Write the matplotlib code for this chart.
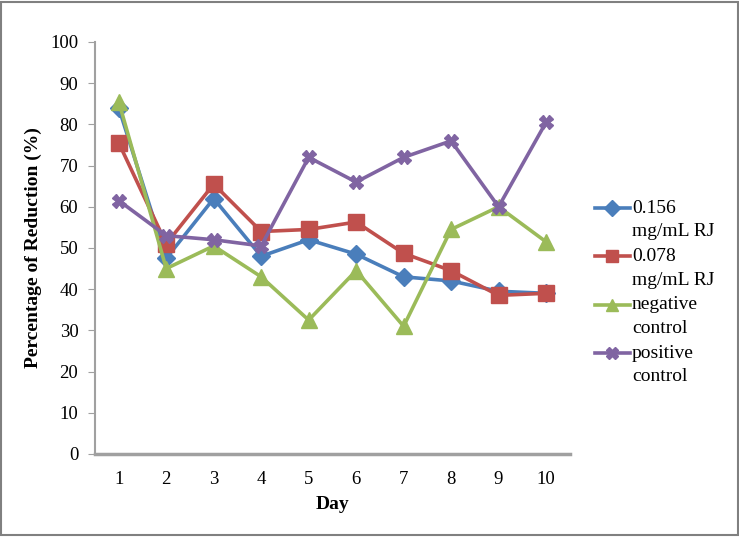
import matplotlib
matplotlib.use("Agg")
import matplotlib.pyplot as plt
import numpy as np
from matplotlib.patches import Rectangle
from matplotlib.legend_handler import HandlerLine2D

plt.rcParams['font.family'] = ['Liberation Serif', 'DejaVu Serif']

days = [1, 2, 3, 4, 5, 6, 7, 8, 9, 10]
series_names = ["0.156\nmg/mL RJ", "0.078\nmg/mL RJ", "negative\ncontrol", "positive\ncontrol"]
rj_0156 = [84, 47.5, 62, 48, 52, 48.5, 43, 42, 39.5, 39]
rj_0078 = [75.5, 51, 65.5, 54, 54.5, 56.3, 48.7, 44.5, 38.5, 39]
neg_control = [85.5, 45, 50.5, 43, 32.5, 44.5, 31, 54.5, 60, 51.5]
pos_control = [61.5, 53, 52, 50.5, 72, 66, 72, 76, 60, 80.5]
y_ticks = [0, 10, 20, 30, 40, 50, 60, 70, 80, 90, 100]

colors = ["#4A7EBB", "#C0504D", "#9BBB59", "#8064A2"]
markers = ["D", "s", "^", "X"]
msizes = [9, 11, 11, 10]


class TopHandler(HandlerLine2D):
    def create_artists(self, legend, orig_handle, xdescent, ydescent,
                       width, height, fontsize, trans):
        arts = super().create_artists(legend, orig_handle, xdescent, ydescent,
                                      width, height, fontsize, trans)
        for a in arts:
            a.set_ydata(np.asarray(a.get_ydata(), dtype=float) + 0.6 * fontsize)
        return arts


fig = plt.figure(figsize=(7.39, 5.37), dpi=100)
ax = fig.add_axes([0.1286, 0.1546, 0.6424, 0.7672])

lines = []
for vals, name, c, m, ms in zip([rj_0156, rj_0078, neg_control, pos_control],
                                series_names, colors, markers, msizes):
    ln, = ax.plot(days, vals, color=c, marker=m, markersize=ms, linewidth=2.6,
                  label=name, markeredgecolor=c)
    lines.append(ln)

ax.set_xlim(0.5, 10.5)
ax.set_ylim(0, 100)
ax.set_xticks(days)
ax.set_yticks(y_ticks)
ax.tick_params(axis='x', length=0, pad=12, labelsize=13.5)
ax.tick_params(axis='y', length=5, color='#A0A0A0', direction='out', labelsize=13.5, pad=7)
for s in ['top', 'right']:
    ax.spines[s].set_visible(False)
ax.spines['left'].set_color('#A0A0A0')
ax.spines['bottom'].set_color('#A0A0A0')
ax.spines['left'].set_linewidth(1.5)
ax.spines['bottom'].set_linewidth(2.5)

ax.set_xlabel("Day", fontweight='bold', fontsize=14, labelpad=6)
ax.set_ylabel("Percentage of Reduction (%)", fontweight='bold', fontsize=14, labelpad=6)

leg = fig.legend(handles=lines, loc='upper left', bbox_to_anchor=(0.805, 0.628), frameon=False,
                 fontsize=14, handlelength=1.8, handletextpad=0.1, labelspacing=0.4,
                 borderpad=0, borderaxespad=0, markerscale=0.85,
                 handler_map={ln: TopHandler() for ln in lines})
for t in leg.get_texts():
    t.set_linespacing(1.5)

fig.patches.append(Rectangle((0.002, 0.003), 0.996, 0.994, transform=fig.transFigure,
                             fill=False, edgecolor='#808080', linewidth=1.5))

fig.savefig("out.png", dpi=100)
